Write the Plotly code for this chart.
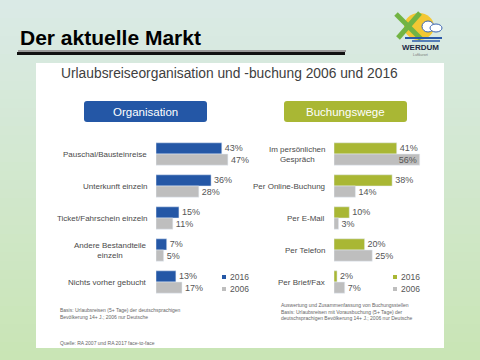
import plotly.graph_objects as go

# ---------------- data ----------------
org_categories = ["Pauschal/Bausteinreise", "Unterkunft einzeln", "Ticket/Fahrschein einzeln",
                  "Andere Bestandteile<br>einzeln", "Nichts vorher gebucht"]
org_2016 = [43, 36, 15, 7, 13]
org_2006 = [47, 28, 11, 5, 17]

buch_categories = ["Im persönlichen<br>Gespräch", "Per Online-Buchung", "Per E-Mail",
                   "Per Telefon", "Per Brief/Fax"]
buch_2016 = [41, 38, 10, 20, 2]
buch_2006 = [56, 14, 3, 25, 7]

years = ["2016", "2006"]

BLUE = "#2457A6"
OLIVE = "#A9B734"
GRAY = "#BEBEBE"
TXT = "#4a4a4a"
FONT = "Liberation Sans, Arial, sans-serif"

W, H = 480, 360
def px(x): return x / W
def py(y): return 1 - y / H

fig = go.Figure()

# ---------------- bars ----------------
def pct(v): return [f"{x}%" for x in v]

fig.add_trace(go.Bar(y=org_categories, x=org_2016, orientation="h", marker_color=BLUE,
                     text=pct(org_2016), textposition="outside", xaxis="x", yaxis="y",
                     name=years[0], cliponaxis=False, constraintext="none"))
fig.add_trace(go.Bar(y=org_categories, x=org_2006, orientation="h", marker_color=GRAY,
                     text=pct(org_2006), textposition="outside", xaxis="x", yaxis="y",
                     name=years[1], cliponaxis=False, constraintext="none"))
fig.add_trace(go.Bar(y=buch_categories, x=buch_2016, orientation="h", marker_color=OLIVE,
                     text=pct(buch_2016), textposition="outside", xaxis="x2", yaxis="y2",
                     name=years[0], cliponaxis=False, constraintext="none"))
pos_2006 = ["inside" if v > 50 else "outside" for v in buch_2006]
fig.add_trace(go.Bar(y=buch_categories, x=buch_2006, orientation="h", marker_color=GRAY,
                     text=pct(buch_2006), textposition=pos_2006, insidetextanchor="end",
                     xaxis="x2", yaxis="y2", name=years[1], cliponaxis=False, constraintext="none"))
fig.update_traces(textfont=dict(size=9, color="#555555", family=FONT),
                  insidetextfont=dict(size=9, color="#555555", family=FONT),
                  outsidetextfont=dict(size=9, color="#555555", family=FONT),
                  showlegend=False, hoverinfo="skip")

scale = 1.53  # px per percent
ydom = [py(298), py(138)]
hidden = dict(showgrid=False, zeroline=False, showticklabels=False, showline=False, ticks="")
fig.update_layout(
    xaxis=dict(domain=[px(156), px(156 + 60 * scale)], range=[0, 60], **hidden),
    yaxis=dict(domain=ydom, autorange="reversed", **hidden),
    xaxis2=dict(domain=[px(334), px(334 + 60 * scale)], range=[0, 60], anchor="y2", **hidden),
    yaxis2=dict(domain=ydom, autorange="reversed", anchor="x2", **hidden),
)

shapes = []
ann = []

def text(t, x, y, size, color="#666666", xa="left", ya="middle", align="left"):
    ann.append(dict(text=t, x=px(x), y=py(y), xref="paper", yref="paper", xanchor=xa,
                    yanchor=ya, align=align, showarrow=False,
                    font=dict(size=size, color=color, family=FONT)))

# ---------------- background gradient ----------------
top = (0xDA, 0xEA, 0xE6)
bot = (0xC9, 0xE5, 0xB5)
n = 40
for i in range(n):
    t = i / (n - 1)
    c = tuple(round(top[k] + (bot[k] - top[k]) * t) for k in range(3))
    shapes.append(dict(type="rect", xref="paper", yref="paper", layer="below",
                       x0=0, x1=1, y0=py(H * (i + 1) / n) - 0.002, y1=py(H * i / n),
                       fillcolor="rgb(%d,%d,%d)" % c, line_width=0))

# white panel
shapes.append(dict(type="rect", xref="paper", yref="paper", layer="below",
                   x0=px(36), x1=px(444), y0=py(348), y1=py(63),
                   fillcolor="white", line_width=0))

# title underline
shapes.append(dict(type="line", xref="paper", yref="paper", x0=px(18), x1=px(346),
                   y0=py(51), y1=py(51), line=dict(color="#9a9a9a", width=2)))
shapes.append(dict(type="line", xref="paper", yref="paper", x0=px(17), x1=px(345),
                   y0=py(53.5), y1=py(53.5), line=dict(color="#111111", width=3)))

# rounded header boxes
def rrect(x0, y0, x1, y1, r):
    pts = [("M", x0 + r, y0), ("L", x1 - r, y0), ("Q", x1, y0, x1, y0 + r), ("L", x1, y1 - r),
           ("Q", x1, y1, x1 - r, y1), ("L", x0 + r, y1), ("Q", x0, y1, x0, y1 - r),
           ("L", x0, y0 + r), ("Q", x0, y0, x0 + r, y0)]
    s = ""
    for p in pts:
        coords = p[1:]
        parts = [f"{px(coords[j]):.5f},{py(coords[j+1]):.5f}" for j in range(0, len(coords), 2)]
        s += p[0] + " " + " ".join(parts) + " "
    return s + "Z"

shapes.append(dict(type="path", xref="paper", yref="paper", layer="below",
                   path=rrect(84, 101, 207, 122, 3), fillcolor=BLUE, line_width=0))
shapes.append(dict(type="path", xref="paper", yref="paper", layer="below",
                   path=rrect(284, 101, 407, 122, 3), fillcolor=OLIVE, line_width=0))
text("Organisation", 145.5, 111.5, 11.5, "white", xa="center")
text("Buchungswege", 345.5, 111.5, 11.5, "white", xa="center")

# ---------------- texts ----------------
text("<b>Der aktuelle Markt</b>", 18, 38, 21, "#000000")
text("Urlaubsreiseorganisation und -buchung 2006 und 2016", 229, 74, 13.8, "#404040", xa="center")

for cat in org_categories:
    ann.append(dict(text=cat, x=px(149), y=cat, xref="paper", yref="y", xanchor="right",
                    yanchor="middle", align="center", showarrow=False,
                    font=dict(size=8, color=TXT, family=FONT)))
for cat in buch_categories:
    ann.append(dict(text=cat, x=px(327), y=cat, xref="paper", yref="y2", xanchor="right",
                    yanchor="middle", align="center", showarrow=False,
                    font=dict(size=8, color=TXT, family=FONT)))

# legends
def legend(xm, col16):
    for yy, col, lab in [(277, col16, years[0]), (289, GRAY, years[1])]:
        shapes.append(dict(type="rect", xref="paper", yref="paper", x0=px(xm), x1=px(xm + 4),
                           y0=py(yy + 2), y1=py(yy - 2), fillcolor=col, line_width=0))
        text(lab, xm + 6, yy, 8.5, "#555555")
legend(222, BLUE)
legend(393, OLIVE)

text("Basis: Urlaubsreisen (5+ Tage) der deutschsprachigen<br>Bevölkerung 14+ J.; 2006 nur Deutsche",
     58, 313.5, 5)
text("Auswertung und Zusammenfassung von Buchungsstellen<br>Basis: Urlaubsreisen mit Vorausbuchung (5+ Tage) der<br>deutschsprachigen Bevölkerung 14+ J.; 2006 nur Deutsche",
     279, 311.5, 5)
text("Quelle: RA 2007 und RA 2017 face-to-face", 58, 343, 5)

# ---------------- logo ----------------
shapes.append(dict(type="circle", xref="paper", yref="paper", x0=px(404), x1=px(434),
                   y0=py(40), y1=py(13), fillcolor="#F3C733", line_width=0))
shapes.append(dict(type="line", xref="paper", yref="paper", x0=px(396), x1=px(421),
                   y0=py(14), y1=py(39), line=dict(color="#72B443", width=5)))
shapes.append(dict(type="line", xref="paper", yref="paper", x0=px(420), x1=px(398),
                   y0=py(13), y1=py(38), line=dict(color="#72B443", width=5)))
shapes.append(dict(type="circle", xref="paper", yref="paper", x0=px(422), x1=px(434),
                   y0=py(32), y1=py(21), fillcolor="white", line=dict(color="#3A64B0", width=1)))
shapes.append(dict(type="circle", xref="paper", yref="paper", x0=px(430), x1=px(442),
                   y0=py(32), y1=py(24), fillcolor="white", line=dict(color="#3A64B0", width=1)))
shapes.append(dict(type="line", xref="paper", yref="paper", x0=px(405), x1=px(442),
                   y0=py(38), y1=py(38), line=dict(color="#2B5AA8", width=2)))
shapes.append(dict(type="line", xref="paper", yref="paper", x0=px(412), x1=px(440),
                   y0=py(41), y1=py(41), line=dict(color="#2B5AA8", width=1.5)))
text("<b>WERDUM</b>", 420, 48, 8, "#1d2a45", xa="center")
text("Luftkurort", 420, 54.5, 3.5, "#777777", xa="center")

fig.update_layout(
    width=W, height=H, margin=dict(l=0, r=0, t=0, b=0),
    paper_bgcolor="#D2E8CE", plot_bgcolor="rgba(0,0,0,0)",
    barmode="group", bargap=0.3, bargroupgap=0,
    shapes=shapes, annotations=ann, showlegend=False,
    font=dict(family=FONT), hovermode=False,
)

fig.write_html("out.html", config={"displayModeBar": False},
               post_script="document.body.style.margin='0';")
